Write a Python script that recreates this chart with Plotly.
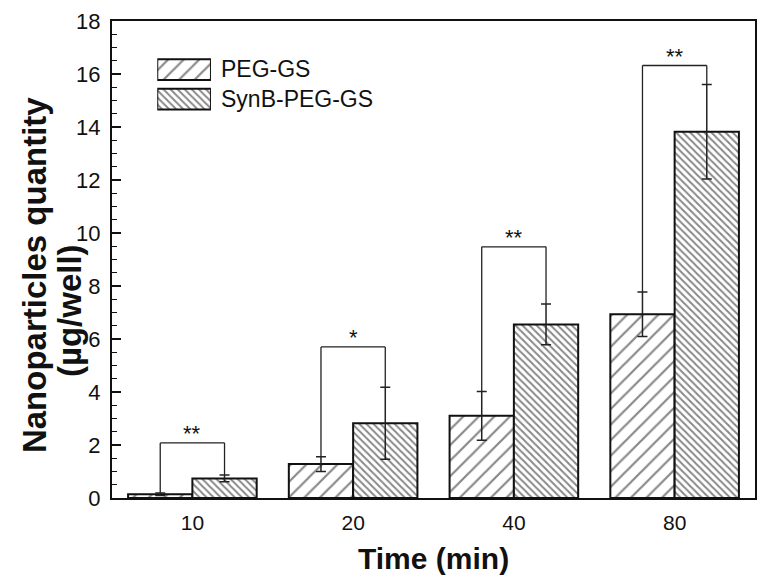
import plotly.graph_objects as go

# ---- data ----
times = ["10", "20", "40", "80"]
series_names = ["PEG-GS", "SynB-PEG-GS"]
peg_gs = [0.14, 1.28, 3.10, 6.93]
peg_gs_err = [0.05, 0.28, 0.92, 0.84]
synb_peg_gs = [0.74, 2.82, 6.55, 13.82]
synb_peg_gs_err = [0.13, 1.36, 0.77, 1.78]
bracket_heights = [2.08, 5.70, 9.48, 16.32]
significance = ["**", "*", "**", "**"]
y_ticks = [0, 2, 4, 6, 8, 10, 12, 14, 16, 18]

BARGAP = 0.2
FONT = "Liberation Sans, Arial, Helvetica, sans-serif"
INK = "#111111"

fig = go.Figure()

patterns = [dict(shape="/", size=11, solidity=0.2, fgcolor=INK, bgcolor="white"),
            dict(shape="\\", size=5, solidity=0.4, fgcolor=INK, bgcolor="white")]

for name, vals, errs, pat in zip(series_names, [peg_gs, synb_peg_gs],
                                 [peg_gs_err, synb_peg_gs_err], patterns):
    fig.add_trace(go.Bar(
        x=times, y=vals, name=name, showlegend=False,
        marker=dict(color="white", line=dict(color=INK, width=2), pattern=pat),
        error_y=dict(type="data", array=errs, visible=True, color="#222222",
                     thickness=1.5, width=5),
    ))

# significance brackets, positioned from the bar geometry
half = (1 - BARGAP) / 4  # offset of each bar centre from category centre
for i, (h, s) in enumerate(zip(bracket_heights, significance)):
    xl, xr = i - half, i + half
    yl = peg_gs[i] + peg_gs_err[i]
    yr = synb_peg_gs[i] + synb_peg_gs_err[i]
    line = dict(color="#222222", width=1.3)
    fig.add_shape(type="line", xref="x", yref="y", x0=xl, x1=xl, y0=yl, y1=h, line=line)
    fig.add_shape(type="line", xref="x", yref="y", x0=xl, x1=xr, y0=h, y1=h, line=line)
    fig.add_shape(type="line", xref="x", yref="y", x0=xr, x1=xr, y0=yr, y1=h, line=line)
    fig.add_annotation(x=i, y=h, xref="x", yref="y", text=s, showarrow=False,
                       yanchor="bottom", yshift=-5,
                       font=dict(family=FONT, size=22, color=INK))

# legend swatches (drawn as patterned bars on an overlay axis)
for k, (name, pat) in enumerate(zip(series_names, patterns)):
    fig.add_trace(go.Bar(
        x=[1], y=[k], orientation="h", width=0.71, offset=-0.355,
        xaxis="x2", yaxis="y2", showlegend=False, hoverinfo="skip",
        marker=dict(color="white", line=dict(color=INK, width=2), pattern=pat),
    ))
    fig.add_annotation(x=0.1668, y=[0.8986, 0.8368][k], xref="paper", yref="paper",
                       text=name, showarrow=False, xanchor="left", yanchor="middle",
                       font=dict(family=FONT, size=23, color=INK))

fig.update_layout(
    width=767, height=583,
    margin=dict(l=112, r=12, t=21, b=85),
    paper_bgcolor="white", plot_bgcolor="white",
    barmode="group", bargap=BARGAP, bargroupgap=0,
    showlegend=False,
    font=dict(family=FONT, color=INK),
    xaxis=dict(type="category", range=[-0.5, 3.5], showline=True, linecolor=INK,
               linewidth=2, mirror=True, ticks="", showgrid=False, automargin=False,
               tickfont=dict(size=21, color=INK), ticklabelstandoff=5),
    yaxis=dict(range=[0, 18], tickvals=y_ticks, showline=True, linecolor=INK,
               linewidth=2, mirror=True, ticks="inside", ticklen=9, tickwidth=1.5,
               tickcolor=INK, showgrid=False, zeroline=False, automargin=False,
               tickfont=dict(size=22, color=INK), ticklabelstandoff=5,
               minor=dict(dtick=0.5, ticks="inside", ticklen=5, tickwidth=1.2,
                          tickcolor=INK, showgrid=False)),
    xaxis2=dict(domain=[0.0704, 0.1539], anchor="y2", range=[0, 1], visible=False,
                fixedrange=True, automargin=False),
    yaxis2=dict(domain=[0.8053, 0.929], anchor="x2", range=[1.5, -0.5], visible=False,
                fixedrange=True, automargin=False),
)

fig.add_annotation(x=0.5, y=-0.1258, xref="paper", yref="paper", text="<b>Time (min)</b>",
                   showarrow=False, xanchor="center", yanchor="middle",
                   font=dict(family=FONT, size=30, color=INK))
fig.add_annotation(x=-0.1212, y=0.4675, xref="paper", yref="paper",
                   text="<b>Nanoparticles quantity</b>", textangle=-90, showarrow=False,
                   xanchor="center", yanchor="middle",
                   font=dict(family=FONT, size=33, color=INK))
fig.add_annotation(x=-0.0668, y=0.392, xref="paper", yref="paper",
                   text="<b>(µg/well)</b>", textangle=-90, showarrow=False,
                   xanchor="center", yanchor="middle",
                   font=dict(family=FONT, size=33, color=INK))

fig.write_html("out.html", config={"displayModeBar": False},
               post_script="document.body.style.margin='0px';"
                           "document.body.style.overflow='hidden';")
